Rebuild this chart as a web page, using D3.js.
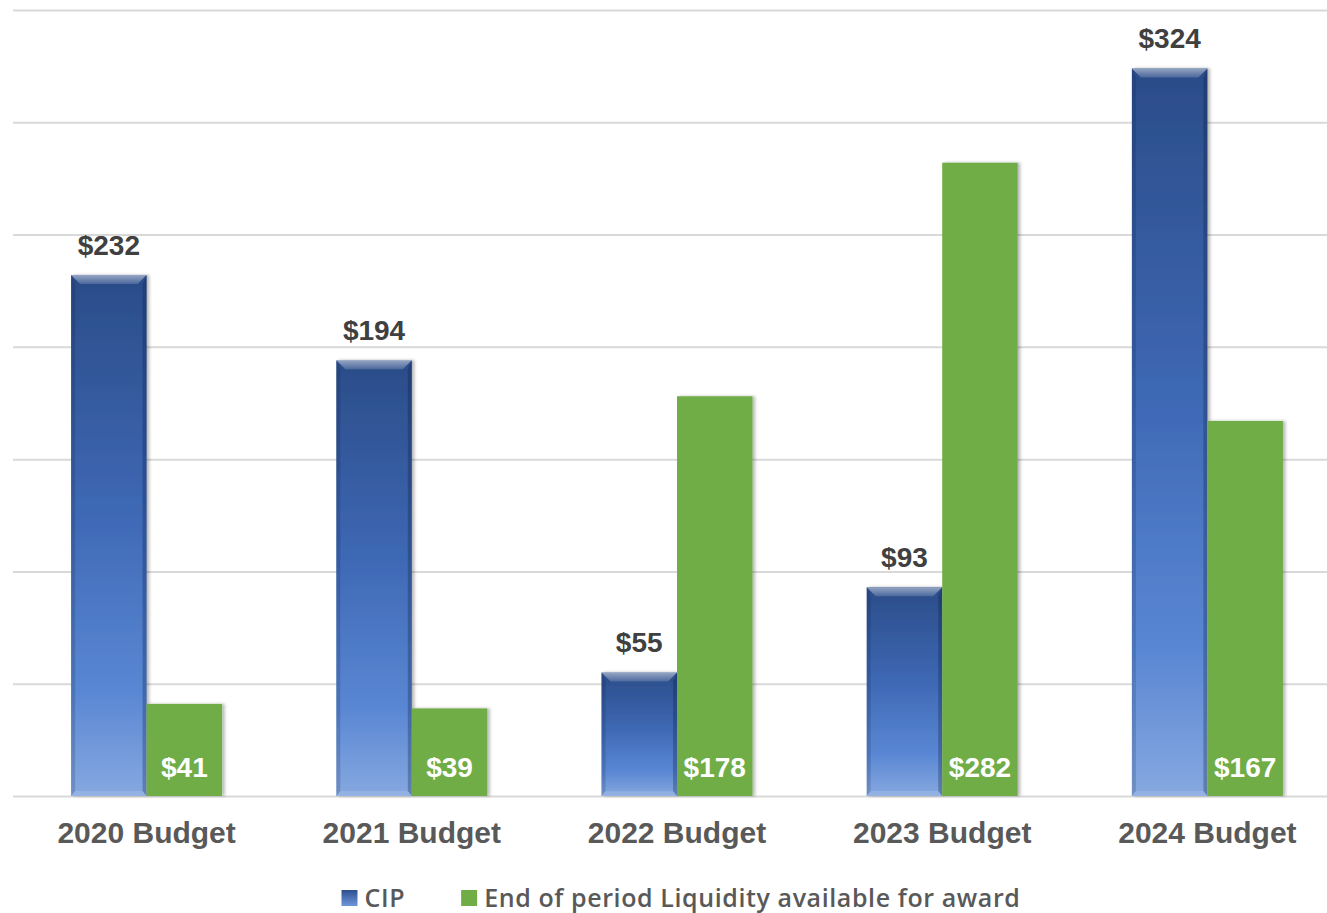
<!DOCTYPE html>
<html>
<head>
<meta charset="utf-8">
<script src="https://cdn.jsdelivr.net/npm/d3@7/dist/d3.min.js"></script>
<style>
  html, body { margin: 0; padding: 0; background: #ffffff; }
  svg { display: block; }
</style>
</head>
<body>
<svg id="chart" width="1327" height="913"></svg>
<script>
// Budget periods and the two series shown for each
const categories = ["2020 Budget", "2021 Budget", "2022 Budget", "2023 Budget", "2024 Budget"];
const seriesNames = ["CIP", "End of period Liquidity available for award"];
const cipValues = [232, 194, 55, 93, 324];
const liquidityValues = [41, 39, 178, 282, 167];
const gridTicks = [0, 50, 100, 150, 200, 250, 300, 350];

const svg = d3.select("#chart");
const W = 1327, H = 913;

const x = d3.scaleBand().domain(categories).range([14, 1340]).paddingInner(0).paddingOuter(0);
const xSub = d3.scaleBand().domain(seriesNames).range([0, x.bandwidth()]).paddingInner(0).paddingOuter(0.756);
const y = d3.scaleLinear().domain([0, 350]).range([796, 10]);

const defs = svg.append("defs");

// vertical body gradient for the CIP bars
const gCip = defs.append("linearGradient").attr("id", "cipGrad")
  .attr("x1", 0).attr("y1", 0).attr("x2", 0).attr("y2", 1);
gCip.append("stop").attr("offset", "0%").attr("stop-color", "#2b4c88");
gCip.append("stop").attr("offset", "45%").attr("stop-color", "#3e68b4");
gCip.append("stop").attr("offset", "80%").attr("stop-color", "#5a87d3");
gCip.append("stop").attr("offset", "100%").attr("stop-color", "#86a8e0");

const gTop = defs.append("linearGradient").attr("id", "bevelTop")
  .attr("x1", 0).attr("y1", 0).attr("x2", 0).attr("y2", 1);
gTop.append("stop").attr("offset", "0%").attr("stop-color", "#ffffff").attr("stop-opacity", 0.5);
gTop.append("stop").attr("offset", "100%").attr("stop-color", "#ffffff").attr("stop-opacity", 0.15);

const gLegend = defs.append("linearGradient").attr("id", "legendCip")
  .attr("x1", 0).attr("y1", 0).attr("x2", 0).attr("y2", 1);
gLegend.append("stop").attr("offset", "0%").attr("stop-color", "#2c4f8d");
gLegend.append("stop").attr("offset", "100%").attr("stop-color", "#6f97dc");

const shadow = defs.append("filter").attr("id", "barShadow")
  .attr("x", "-20%").attr("y", "-5%").attr("width", "140%").attr("height", "110%");
shadow.append("feDropShadow").attr("dx", 2.5).attr("dy", 0).attr("stdDeviation", 1.6)
  .attr("flood-color", "#000").attr("flood-opacity", 0.28);

// horizontal gridlines
const grid = svg.append("g").attr("transform", "translate(13,0)")
  .call(d3.axisLeft(y).tickValues(gridTicks).tickSize(-(W - 13)).tickFormat(""));
grid.select(".domain").remove();
grid.selectAll(".tick line").attr("stroke", "#d9d9d9").attr("stroke-width", 2);

const groups = svg.append("g").selectAll("g")
  .data(categories).join("g")
  .attr("transform", d => `translate(${x(d)},0)`);

// CIP bars with bevelled edges
groups.each(function (cat, i) {
  const g = d3.select(this);
  const v = cipValues[i];
  const bx = xSub(seriesNames[0]);
  const bw = xSub.bandwidth();
  const by = y(v);
  const bh = y(0) - y(v);
  const t = 9, s = 4, b = 5;
  const bar = g.append("g").attr("filter", "url(#barShadow)");
  bar.append("rect").attr("x", bx).attr("y", by).attr("width", bw).attr("height", bh)
    .attr("fill", "url(#cipGrad)");
  bar.append("polygon")
    .attr("points", [[bx, by], [bx + bw, by], [bx + bw - t, by + t], [bx + t, by + t]].join(" "))
    .attr("fill", "url(#bevelTop)");
  bar.append("polygon")
    .attr("points", [[bx, by], [bx + s, by + t], [bx + s, by + bh - b], [bx, by + bh]].join(" "))
    .attr("fill", "#0d1f45").attr("fill-opacity", 0.18);
  bar.append("polygon")
    .attr("points", [[bx + bw, by], [bx + bw - s, by + t], [bx + bw - s, by + bh - b], [bx + bw, by + bh]].join(" "))
    .attr("fill", "#0d1f45").attr("fill-opacity", 0.3);
  bar.append("polygon")
    .attr("points", [[bx, by + bh], [bx + s, by + bh - b], [bx + bw - s, by + bh - b], [bx + bw, by + bh]].join(" "))
    .attr("fill", "#ffffff").attr("fill-opacity", 0.12);

  g.append("text")
    .attr("x", bx + bw / 2).attr("y", by - 20)
    .attr("text-anchor", "middle")
    .attr("font-family", "Liberation Sans, Arial, sans-serif")
    .attr("font-weight", "bold").attr("font-size", 28)
    .attr("fill", "#404040")
    .text("$" + v);
});

// liquidity bars
groups.each(function (cat, i) {
  const g = d3.select(this);
  const v = liquidityValues[i];
  const bx = xSub(seriesNames[1]);
  const bw = xSub.bandwidth();
  g.append("rect")
    .attr("x", bx).attr("y", y(v)).attr("width", bw).attr("height", y(0) - y(v))
    .attr("fill", "#70ad47").attr("filter", "url(#barShadow)");
  g.append("text")
    .attr("x", bx + bw / 2).attr("y", y(0) - 19)
    .attr("text-anchor", "middle")
    .attr("font-family", "Liberation Sans, Arial, sans-serif")
    .attr("font-weight", "bold").attr("font-size", 28)
    .attr("fill", "#ffffff")
    .text("$" + v);
});

// category labels
svg.append("g").selectAll("text")
  .data(categories).join("text")
  .attr("x", d => x(d) + x.bandwidth() / 2)
  .attr("y", 843)
  .attr("text-anchor", "middle")
  .attr("font-family", "Liberation Sans, Arial, sans-serif")
  .attr("font-weight", "bold").attr("font-size", 30)
  .attr("fill", "#595959")
  .text(d => d);

// legend
const legend = svg.append("g");
const legendColors = ["url(#legendCip)", "#70ad47"];
const gap = 56;
let lx = 0;
const items = legend.selectAll("g").data(seriesNames).join("g");
items.append("rect").attr("x", 0).attr("y", -8).attr("width", 16).attr("height", 16)
  .attr("fill", (d, i) => legendColors[i]);
items.append("text").attr("x", 23).attr("y", 0).attr("dy", "0.36em")
  .attr("font-family", "Open Sans, sans-serif").attr("font-weight", 600)
  .attr("font-size", 25).attr("letter-spacing", 0.6).attr("fill", "#595959")
  .text(d => d);
items.each(function () {
  const it = d3.select(this);
  it.attr("transform", `translate(${lx},0)`);
  lx += 23 + it.select("text").node().getComputedTextLength() + gap;
});
const legendWidth = lx - gap;
legend.attr("transform", `translate(${681 - legendWidth / 2},898)`);
</script>
</body>
</html>
